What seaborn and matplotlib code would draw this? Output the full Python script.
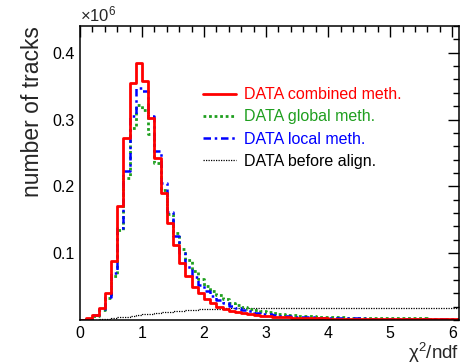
import numpy as np
import pandas as pd
import matplotlib
matplotlib.use("Agg")
import matplotlib.pyplot as plt
from matplotlib.ticker import MultipleLocator, FixedLocator
from matplotlib.lines import Line2D
import seaborn as sns

# ---- data (in units of 10^6 tracks), bins of width 0.1 from 0 to 6.1 ----
bin_edges = [round(0.1 * i, 1) for i in range(62)]

combined = [0.0005, 0.003, 0.008, 0.018, 0.041, 0.0885, 0.170, 0.272, 0.355, 0.385,
            0.358, 0.302, 0.243, 0.190, 0.145, 0.112, 0.085, 0.066, 0.050, 0.040,
            0.032, 0.025, 0.020, 0.0165, 0.014, 0.012, 0.010, 0.0085, 0.0072, 0.0062,
            0.0054, 0.0048, 0.0043, 0.0038, 0.0034, 0.0031, 0.0028, 0.0026, 0.0024, 0.0022,
            0.0021, 0.0020, 0.0019, 0.0018, 0.0017, 0.0016, 0.0016, 0.0015, 0.0014, 0.0014,
            0.0013, 0.0013, 0.0012, 0.0012, 0.0011, 0.0011, 0.0011, 0.0010, 0.0010, 0.0010,
            0.0009]

global_m = [0.0003, 0.002, 0.006, 0.015, 0.033, 0.066, 0.134, 0.213, 0.287, 0.322,
            0.315, 0.279, 0.235, 0.195, 0.158, 0.130, 0.106, 0.089, 0.074, 0.061,
            0.051, 0.044, 0.037, 0.031, 0.026, 0.022, 0.019, 0.0165, 0.0145, 0.0128,
            0.0113, 0.0100, 0.0089, 0.0080, 0.0072, 0.0065, 0.0059, 0.0054, 0.0050, 0.0046,
            0.0043, 0.0040, 0.0038, 0.0036, 0.0034, 0.0032, 0.0031, 0.0029, 0.0028, 0.0027,
            0.0026, 0.0025, 0.0024, 0.0023, 0.0022, 0.0022, 0.0021, 0.0020, 0.0020, 0.0019,
            0.0019]

local_m = [0.0003, 0.002, 0.007, 0.016, 0.034, 0.071, 0.138, 0.223, 0.305, 0.347,
           0.342, 0.305, 0.253, 0.205, 0.162, 0.126, 0.100, 0.080, 0.064, 0.052,
           0.043, 0.036, 0.030, 0.025, 0.021, 0.018, 0.015, 0.013, 0.011, 0.0095,
           0.0082, 0.0072, 0.0064, 0.0057, 0.0051, 0.0046, 0.0042, 0.0038, 0.0035, 0.0032,
           0.0030, 0.0028, 0.0026, 0.0025, 0.0023, 0.0022, 0.0021, 0.0020, 0.0019, 0.0018,
           0.0018, 0.0017, 0.0016, 0.0016, 0.0015, 0.0015, 0.0014, 0.0014, 0.0013, 0.0013,
           0.0012]

before = [0.0, 0.0001, 0.0004, 0.0010, 0.0020, 0.0030, 0.0040, 0.0050, 0.0060, 0.0070,
          0.0085, 0.0095, 0.0105, 0.0115, 0.0125, 0.0133, 0.0140, 0.0147, 0.0153, 0.0158,
          0.0163, 0.0167, 0.0171, 0.0174, 0.0177, 0.0179, 0.0181, 0.0183, 0.0184, 0.0185,
          0.0186, 0.0186, 0.0186, 0.0186, 0.0186, 0.0186, 0.0186, 0.0186, 0.0186, 0.0186,
          0.0186, 0.0185, 0.0185, 0.0185, 0.0184, 0.0184, 0.0184, 0.0183, 0.0183, 0.0183,
          0.0182, 0.0182, 0.0181, 0.0181, 0.0181, 0.0180, 0.0180, 0.0179, 0.0179, 0.0178,
          0.0178]

labels = ["DATA combined meth.", "DATA global meth.", "DATA local meth.", "DATA before align."]
colors = ["#ff0000", "#1f9f1f", "#0000ff", "#000000"]

# ---- figure ----
sns.set_style("white")
plt.rcParams["font.family"] = ["Liberation Sans", "DejaVu Sans"]
plt.rcParams["mathtext.fontset"] = "custom"
plt.rcParams["mathtext.rm"] = "Liberation Sans"
plt.rcParams["mathtext.it"] = "Liberation Sans:italic"

fig = plt.figure(figsize=(4.61, 3.64), dpi=100)
ax = fig.add_axes([0.1735, 0.121, 0.8222, 0.8076])

centers = [(bin_edges[i] + bin_edges[i + 1]) / 2 for i in range(len(bin_edges) - 1)]
series = [before, global_m, local_m, combined]
styles = [
    dict(color=colors[3], linestyle=(0, (1, 1)), linewidth=0.9),
    dict(color=colors[1], linestyle=(0, (1, 1)), linewidth=2.0),
    dict(color=colors[2], linestyle=(0, (3, 1.5, 1, 1.5)), linewidth=1.8),
    dict(color=colors[0], linestyle="-", linewidth=2.0),
]
for vals, st in zip(series, styles):
    df = pd.DataFrame({"x": centers, "w": vals})
    sns.histplot(data=df, x="x", weights="w", bins=bin_edges, element="step",
                 fill=False, ax=ax, **st)

ax.set_xlim(0, 6.11)
ax.set_ylim(0, 0.44)

ax.xaxis.set_major_locator(MultipleLocator(1))
ax.xaxis.set_minor_locator(MultipleLocator(0.2))
ax.yaxis.set_major_locator(FixedLocator([0.1, 0.2, 0.3, 0.4]))
ax.yaxis.set_minor_locator(MultipleLocator(0.02))
ax.set_yticklabels(["0.1", "0.2", "0.3", "0.4"])
ax.tick_params(which="both", direction="in", top=True, right=True,
               labelsize=11.5, width=1.0, colors="black")
ax.tick_params(which="major", length=8, pad=4)
ax.tick_params(which="minor", length=4)
for sp in ax.spines.values():
    sp.set_linewidth(1.1)
    sp.set_color("black")

ax.set_ylabel("number of tracks", fontsize=16.5, loc="top", labelpad=6)
ax.set_xlabel("χ$^{2}$/ndf", fontsize=13.5, loc="right", labelpad=0)
ax.text(0.0, 1.005, r"$\times10^{6}$", transform=ax.transAxes, fontsize=12,
        ha="left", va="bottom")

handles = [Line2D([], [], color=colors[0], linestyle="-", linewidth=2.0),
           Line2D([], [], color=colors[1], linestyle=(0, (1, 1)), linewidth=2.0),
           Line2D([], [], color=colors[2], linestyle=(0, (3, 1.5, 1, 1.5)), linewidth=1.8),
           Line2D([], [], color=colors[3], linestyle=(0, (1, 1)), linewidth=0.9)]
ax.legend(handles, labels, loc="upper left", bbox_to_anchor=(0.324, 0.792),
          frameon=False, fontsize=11.5, labelcolor=colors, handlelength=2.1,
          handletextpad=0.5, labelspacing=0.45, borderaxespad=0, borderpad=0)
ax.set_title("")

fig.savefig("out.png", dpi=100)
